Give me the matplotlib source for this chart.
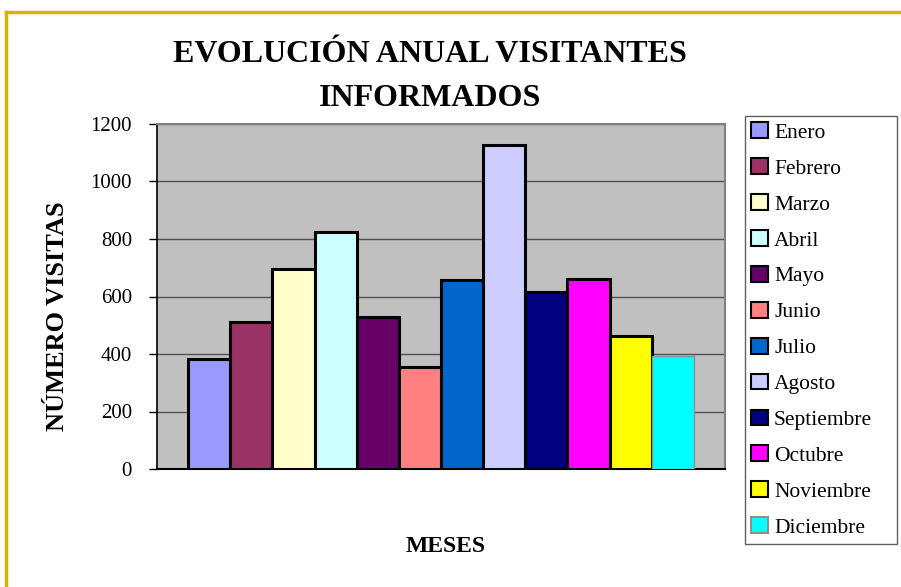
import matplotlib
matplotlib.use('Agg')
from matplotlib import pyplot as plt
from matplotlib.lines import Line2D

## Data
meses = ['Enero', 'Febrero', 'Marzo', 'Abril', 'Mayo', 'Junio', 'Julio',
         'Agosto', 'Septiembre', 'Octubre', 'Noviembre', 'Diciembre']
visitas = [383, 510, 697, 825, 529, 356, 657, 1127, 615, 661, 462, 393]
colores = ['#9999FF', '#993366', '#FFFFCC', '#CCFFFF', '#660066', '#FF8080',
           '#0066CC', '#CCCCFF', '#000080', '#FF00FF', '#FFFF00', '#00FFFF']
bordes = ['black'] * 11 + ['#909090']
y_ticks = [0, 200, 400, 600, 800, 1000, 1200]

plt.rcParams['font.family'] = ['Liberation Serif', 'DejaVu Serif']

fig = plt.figure(figsize=(9.01, 5.87), dpi=100)
ax = fig.add_axes([157/901, 1 - 469/587, 568/901, 345/587])
ax.set_facecolor('#C0C0C0')

for i in range(len(meses)):
    ax.bar(i, visitas[i], width=1.0, color=colores[i], edgecolor=bordes[i],
           linewidth=2.2 if i < 11 else 1.0, label=meses[i], zorder=3)

ax.set_xlim(-1.24, 12.24)
ax.set_ylim(0, 1200)
ax.set_yticks(y_ticks)
ax.yaxis.grid(True, color='#505050', linewidth=1.0, zorder=1)
ax.set_xticks([])
ax.tick_params(axis='y', labelsize=15, length=6, width=1, direction='out', pad=12)

for s in ['top', 'right']:
    ax.spines[s].set_color('#808080')
    ax.spines[s].set_linewidth(1.5)
ax.spines['left'].set_color('black')
ax.spines['bottom'].set_color('black')
ax.spines['left'].set_linewidth(1.2)
ax.spines['bottom'].set_linewidth(1.5)

fig.text(430/901, 1 - 55/587, 'EVOLUCIÓN ANUAL VISITANTES', ha='center', va='center',
         fontsize=23, fontweight='bold')
fig.text(430/901, 1 - 98/587, 'INFORMADOS', ha='center', va='center',
         fontsize=23, fontweight='bold')
fig.text(58/901, 1 - 316/587, 'NÚMERO VISITAS', ha='center', va='center',
         rotation=90, fontsize=19, fontweight='bold')
fig.text(446/901, 1 - 547/587, 'MESES', ha='center', va='center',
         fontsize=17, fontweight='bold')

leg = ax.legend(loc='upper left',
                bbox_to_anchor=(745/901, 1 - 542/587, 152/901, 426/587),
                bbox_transform=fig.transFigure, borderaxespad=0, mode='expand',
                fancybox=False, edgecolor='#606060', fontsize=15.5,
                handlelength=0.75, handleheight=0.75, handletextpad=0.3,
                labelspacing=0.72, borderpad=0.3, framealpha=1)
leg.get_frame().set_linewidth(1.0)
for h in leg.legend_handles:
    h.set_linewidth(1.5)

# yellow border around the chart
gold = '#D4B500'
fig.add_artist(Line2D([6/901, 6/901], [0, 1 - 12/587], color=gold, linewidth=2.5,
                      transform=fig.transFigure))
fig.add_artist(Line2D([6/901, 1], [1 - 12/587, 1 - 12/587], color=gold, linewidth=2.5,
                      transform=fig.transFigure))

fig.savefig('out.png', dpi=100)
